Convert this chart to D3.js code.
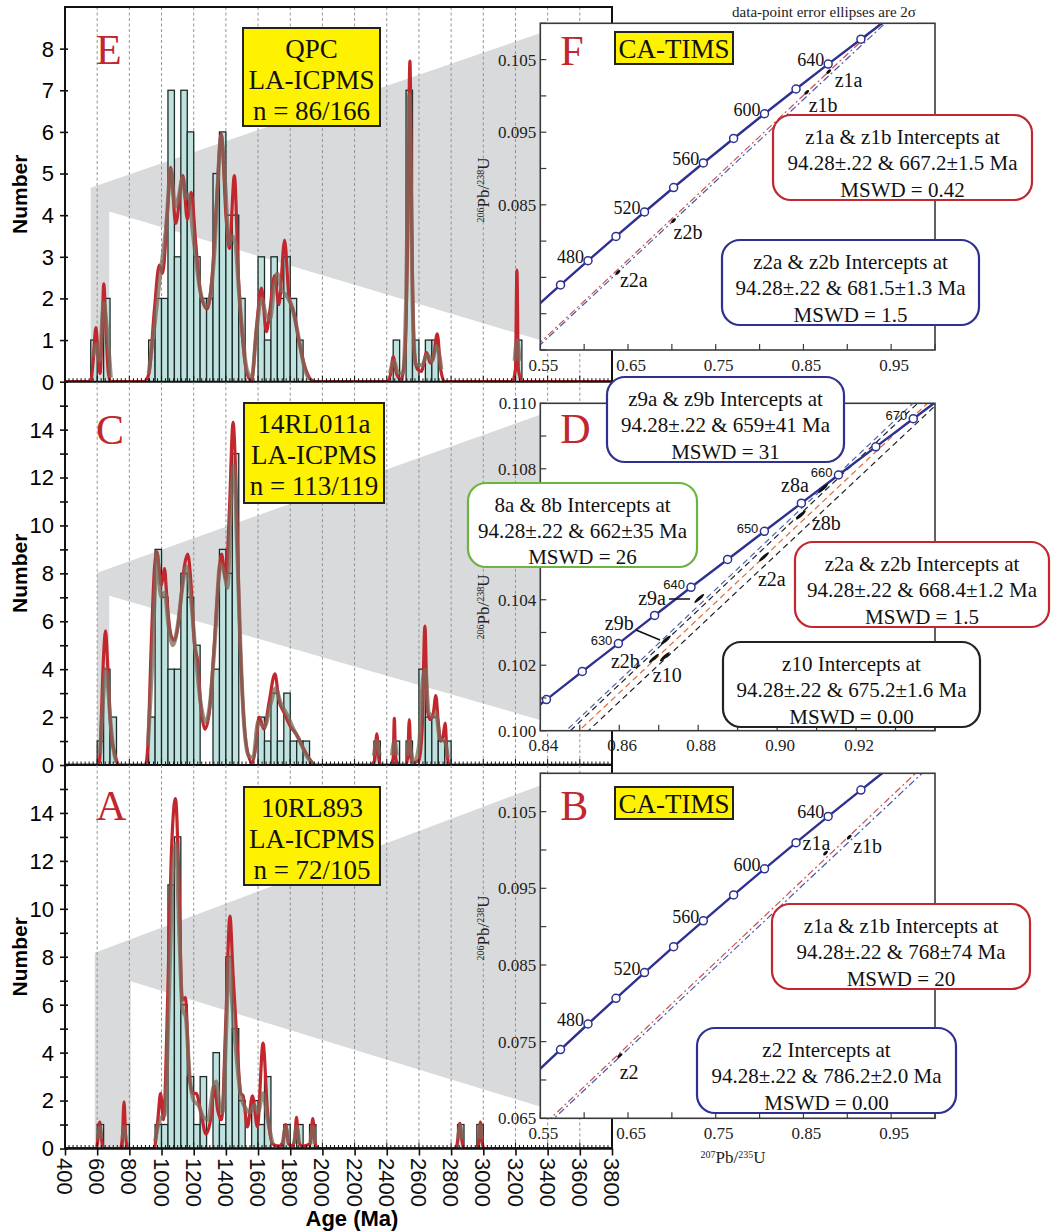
<!DOCTYPE html>
<html>
<head>
<meta charset="utf-8">
<script src="https://cdn.jsdelivr.net/npm/d3@7"></script>
<style>
body { margin: 0; background: #fff; }
svg { display: block; }
</style>
</head>
<body>
<svg id="fig" width="1051" height="1231"></svg>
<script>
/* Detrital zircon histograms (E, C, A) + concordia insets (F, D, B) */

var binWidth = 40;
var ageTicks = [400, 600, 800, 1000, 1200, 1400, 1600, 1800, 2000, 2200, 2400, 2600, 2800, 3000, 3200, 3400, 3600, 3800];
var countLabelsE = [0, 1, 2, 3, 4, 5, 6, 7, 8];
var countLabelsCA = [0, 2, 4, 6, 8, 10, 12, 14];

// [bin start (Ma), count]
var binsE = [[560,1],[640,2],[920,1],[960,2],[1000,2],[1040,7],[1080,3],[1120,7],[1160,6],[1200,3],[1240,2],[1280,2],[1320,5],[1360,6],[1400,4],[1440,4],[1480,2],[1600,3],[1640,1],[1680,3],[1720,2],[1760,3],[1800,2],[1840,1],[2440,1],[2520,7],[2560,1],[2640,1],[2680,1],[3200,1]];
var binsC = [[600,1],[640,4],[680,2],[920,2],[960,9],[1000,7],[1040,4],[1080,4],[1120,8],[1160,7],[1200,5],[1320,4],[1360,9],[1400,8],[1440,13],[1600,2],[1640,1],[1680,3],[1720,1],[1760,3],[1800,1],[1840,1],[1880,1],[2320,1],[2440,1],[2520,1],[2600,4],[2640,2],[2680,2],[2720,1],[2760,1]];
var binsA = [[600,1],[760,1],[960,1],[1000,1],[1040,11],[1080,13],[1120,6],[1160,3],[1200,1],[1240,3],[1320,4],[1360,1],[1400,8],[1440,5],[1480,2],[1560,2],[1600,1],[1640,3],[1760,1],[1840,1],[1920,1],[2840,1],[2960,1]];

// probability density (red) and KDE (brown), [age, value in count units]
var redE = [[400,0],[560,0],[575,0.5],[592,1.3],[608,0.5],[618,0.2],[630,1.2],[641,2.35],[655,1.2],[670,0.2],[685,0],[890,0],[922,0.2],[955,1.7],[986,2.8],[1006,2.6],[1037,4.1],[1057,5.15],[1088,3.8],[1133,4.95],[1160,3.9],[1185,4.55],[1211,3.4],[1242,2.15],[1283,1.75],[1314,2.5],[1345,4.5],[1371,5.95],[1402,3.9],[1422,3.2],[1453,4.95],[1478,2.5],[1500,1.2],[1531,0.2],[1560,0.02],[1590,1.3],[1621,2.25],[1652,1.2],[1673,1.7],[1703,2.55],[1730,1.85],[1765,3.4],[1792,2.05],[1820,1.7],[1853,1.0],[1888,0.4],[1929,0.05],[1960,0],[2400,0],[2425,0.2],[2440,0.6],[2460,0.2],[2490,0.05],[2515,0.8],[2530,3.5],[2544,7.7],[2556,3.5],[2570,0.8],[2590,0.3],[2615,0.25],[2648,0.7],[2670,0.45],[2690,0.6],[2714,1.15],[2735,0.3],[2760,0],[3180,0],[3200,0.3],[3209,2.68],[3218,0.3],[3240,0],[3800,0]];
var brownE = [[560,0],[575,0.6],[595,0.9],[615,0.5],[640,1.9],[660,1.3],[685,0.1],[700,0],[900,0],[920,0.2],[955,1.3],[990,2.5],[1030,3.8],[1057,5.1],[1085,4.2],[1110,4.5],[1130,4.9],[1150,4.4],[1165,4.5],[1200,3.4],[1240,2.2],[1280,1.8],[1300,2.0],[1330,3.2],[1350,4.8],[1370,5.9],[1395,4.8],[1420,3.3],[1440,3.5],[1460,3.3],[1480,2.2],[1500,1.3],[1530,0.3],[1560,0.1],[1590,1.2],[1620,2.0],[1650,1.6],[1675,1.5],[1700,2.3],[1720,2.6],[1745,2.2],[1770,2.1],[1800,1.9],[1830,1.5],[1860,0.9],[1890,0.3],[1920,0.05],[1950,0],[2400,0],[2420,0.2],[2445,0.5],[2470,0.2],[2500,0.2],[2520,2.0],[2540,6.9],[2560,2.0],[2580,0.4],[2620,0.4],[2650,0.65],[2680,0.5],[2710,0.85],[2740,0.3],[2760,0],[3180,0],[3195,0.5],[3210,1.0],[3225,0.5],[3240,0]];

var redC = [[400,0],[600,0],[615,0.2],[627,2.2],[640,4.6],[652,5.6],[665,4.2],[678,2.2],[692,1.0],[705,0.6],[720,0.2],[736,0],[900,0],[915,0.8],[936,5.0],[957,8.3],[971,8.9],[985,8.2],[998,7.5],[1010,7.9],[1019,8.2],[1030,7.3],[1039,6.5],[1060,5.4],[1080,5.2],[1100,5.7],[1111,6.3],[1142,8.3],[1163,8.8],[1184,7.5],[1204,5.1],[1225,4.3],[1245,2.4],[1270,1.5],[1297,2.2],[1322,4.4],[1349,7.2],[1373,8.8],[1390,8.1],[1400,7.7],[1421,10.5],[1445,14.3],[1462,11.9],[1483,6.3],[1503,2.9],[1528,0.8],[1561,0.1],[1586,0.8],[1606,2.0],[1637,1.5],[1668,2.6],[1705,3.8],[1730,2.7],[1761,2.2],[1802,1.6],[1837,1.3],[1874,0.8],[1916,0.3],[1957,0],[2300,0],[2325,0.2],[2338,1.3],[2352,0.2],[2365,0],[2425,0],[2440,0.3],[2447,1.95],[2455,0.3],[2470,0],[2515,0],[2530,0.3],[2540,1.9],[2550,0.3],[2565,0.1],[2600,0.2],[2620,1.5],[2637,5.8],[2652,2.3],[2670,1.9],[2690,2.2],[2705,2.9],[2720,1.8],[2736,1.0],[2750,1.2],[2763,1.75],[2775,0.4],[2790,0],[3800,0]];
var brownC = [[600,0],[618,0.5],[635,2.5],[652,4.0],[668,3.2],[683,1.8],[700,0.7],[720,0.1],[735,0],[900,0],[915,0.8],[940,4.0],[960,7.5],[972,8.8],[990,7.3],[1000,7.0],[1020,7.2],[1040,6.0],[1070,5.0],[1100,5.8],[1135,7.7],[1155,8.3],[1185,6.8],[1210,4.8],[1245,2.5],[1275,1.8],[1300,2.5],[1330,5.0],[1365,8.4],[1390,8.0],[1410,7.4],[1435,11.5],[1450,12.5],[1470,9.0],[1490,5.0],[1510,2.0],[1540,0.4],[1570,0.3],[1600,1.8],[1640,1.6],[1680,2.6],[1710,3.2],[1740,2.6],[1780,2.1],[1820,1.5],[1860,1.0],[1900,0.4],[1940,0.05],[1960,0],[2300,0],[2320,0.4],[2338,1.0],[2356,0.4],[2370,0],[2425,0],[2432,0.4],[2447,1.0],[2462,0.4],[2475,0],[2515,0],[2525,0.4],[2540,1.0],[2555,0.4],[2570,0.1],[2600,0.8],[2625,3.6],[2640,4.0],[2660,2.2],[2690,2.0],[2705,2.2],[2730,1.1],[2760,1.0],[2780,0.3],[2795,0]];

var redA = [[400,0],[595,0],[605,0.4],[616,1.1],[627,0.4],[638,0],[745,0],[757,0.5],[767,1.95],[777,0.5],[790,0],[945,0],[957,0.07],[977,1.2],[994,2.3],[1012,1.2],[1039,6.5],[1060,12.1],[1087,14.6],[1107,11.4],[1128,6.2],[1148,6.3],[1173,3.0],[1194,2.3],[1215,2.3],[1245,1.5],[1276,0.6],[1307,1.3],[1328,2.6],[1349,1.6],[1373,1.2],[1400,5.4],[1425,9.7],[1445,7.2],[1466,4.8],[1493,2.3],[1507,2.2],[1534,0.9],[1565,2.2],[1596,0.9],[1631,4.4],[1658,1.6],[1689,0.2],[1730,0.1],[1755,0.3],[1771,1.0],[1790,0.2],[1812,0.1],[1828,0.4],[1839,1.3],[1852,0.3],[1874,0.1],[1925,0.2],[1940,1.25],[1955,0.2],[1977,0],[2830,0],[2840,0.3],[2854,1.05],[2868,0.3],[2880,0],[2965,0],[2972,0.3],[2982,1.1],[2992,0.3],[3005,0],[3800,0]];
var brownA = [[600,0],[607,0.4],[616,0.9],[626,0.4],[635,0],[750,0],[758,0.4],[767,0.9],[777,0.4],[785,0],[950,0],[960,0.3],[980,1.0],[1000,1.3],[1020,1.4],[1045,6.0],[1070,11.5],[1090,12.7],[1110,9.0],[1130,5.8],[1150,5.5],[1175,3.0],[1200,2.0],[1230,1.8],[1260,1.3],[1290,1.2],[1320,2.5],[1340,2.8],[1360,1.8],[1380,1.5],[1400,4.5],[1420,8.0],[1440,6.0],[1460,4.3],[1490,2.3],[1520,1.7],[1550,1.5],[1575,1.8],[1600,1.5],[1630,2.3],[1660,1.2],[1690,0.2],[1720,0],[1755,0.2],[1771,0.9],[1790,0.2],[1805,0],[1825,0.2],[1840,0.9],[1856,0.2],[1870,0],[1925,0.2],[1940,0.9],[1956,0.2],[1970,0],[2838,0],[2845,0.4],[2855,0.95],[2866,0.4],[2875,0],[2968,0],[2975,0.4],[2982,0.95],[2990,0.4],[3000,0]];

// zoom wedges, [age, count]
var wedgeE = [[560,0],[560,4.66],[3352,8.37],[3352,1.0],[675,4.09],[675,0]];
var wedgeC = [[600,0],[600,8.03],[3352,14.62],[3352,1.88],[675,7.06],[675,0]];
var wedgeA = [[585,0],[585,8.17],[3352,15.14],[3352,1.75],[808,6.98],[808,0]];

var boxTextE = ["QPC", "LA-ICPMS", "n = 86/166"];
var boxTextC = ["14RL011a", "LA-ICPMS", "n = 113/119"];
var boxTextA = ["10RL893", "LA-ICPMS", "n = 72/105"];

// concordia points (207Pb/235U, 206Pb/238U)
var concAges20 = [440, 460, 480, 500, 520, 540, 560, 580, 600, 620, 640, 660, 680];
var concX20 = [0.54239, 0.57307, 0.60437, 0.63628, 0.66883, 0.70202, 0.73588, 0.77040, 0.80562, 0.84155, 0.87818, 0.91554, 0.95365];
var concY20 = [0.07064, 0.07397, 0.07730, 0.08065, 0.08401, 0.08738, 0.09076, 0.09414, 0.09754, 0.10095, 0.10438, 0.10781, 0.11125];
var concAges5 = [615, 620, 625, 630, 635, 640, 645, 650, 655, 660, 665, 670, 675];
var concX5 = [0.83250, 0.84155, 0.85064, 0.85978, 0.86896, 0.87818, 0.88745, 0.89677, 0.90614, 0.91554, 0.92500, 0.93450, 0.94405];
var concY5 = [0.10010, 0.10095, 0.10181, 0.10266, 0.10352, 0.10438, 0.10523, 0.10609, 0.10695, 0.10781, 0.10867, 0.10953, 0.11039];

var lowerIntercept = [0.09730, 0.014733]; // 94.28 Ma
// upper intercepts [x, y]
var discF = [[0.92918, 0.10905], [0.95653, 0.11151]];
var discD = [[0.91366, 0.10764], [0.91932, 0.10815], [0.93146, 0.10925], [0.94444, 0.11042]];
var discB = [[1.13052, 0.12652], [1.16905, 0.12971]];

// analyses
var ptsF = [[0.8788, 0.10334], [0.8537, 0.10049], [0.7019, 0.08283], [0.6385, 0.07569]];
var namesF = ["z1a", "z1b", "z2b", "z2a"];
var ptsD = [[0.91165, 0.10740], [0.90603, 0.10659], [0.89667, 0.10531], [0.88027, 0.10404], [0.87181, 0.10277], [0.86878, 0.10221], [0.87156, 0.10226]];
var namesD = ["z8a", "z8b", "z2a", "z9a", "z9b", "z2b", "z10"];
var ptsB = [[0.8752, 0.09959], [0.9022, 0.10168], [0.6405, 0.07318]];
var namesB = ["z1a", "z1b", "z2"];

var boxF1 = ["z1a & z1b Intercepts at", "94.28\u00b1.22 & 667.2\u00b11.5 Ma", "MSWD = 0.42"];
var boxF2 = ["z2a & z2b Intercepts at", "94.28\u00b1.22 & 681.5\u00b11.3 Ma", "MSWD = 1.5"];
var boxD1 = ["z9a & z9b Intercepts at", "94.28\u00b1.22 & 659\u00b141 Ma", "MSWD = 31"];
var boxD2 = ["8a & 8b Intercepts at", "94.28\u00b1.22 & 662\u00b135 Ma", "MSWD = 26"];
var boxD3 = ["z2a & z2b Intercepts at", "94.28\u00b1.22 & 668.4\u00b11.2 Ma", "MSWD = 1.5"];
var boxD4 = ["z10 Intercepts at", "94.28\u00b1.22 & 675.2\u00b11.6 Ma", "MSWD = 0.00"];
var boxB1 = ["z1a & z1b Intercepts at", "94.28\u00b1.22 & 768\u00b174 Ma", "MSWD = 20"];
var boxB2 = ["z2 Intercepts at", "94.28\u00b1.22 & 786.2\u00b12.0 Ma", "MSWD = 0.00"];

var xLabelsWide = [0.55, 0.65, 0.75, 0.85, 0.95];
var xTicksWide = [0.55, 0.60, 0.65, 0.70, 0.75, 0.80, 0.85, 0.90, 0.95, 1.00];
var yTicksWide = [0.065, 0.070, 0.075, 0.080, 0.085, 0.090, 0.095, 0.100, 0.105, 0.110];
var yLabelsF = [0.085, 0.095, 0.105];
var yLabelsB = [0.065, 0.075, 0.085, 0.095, 0.105];
var xLabelsD = [0.84, 0.86, 0.88, 0.90, 0.92];
var xTicksD = [0.84, 0.85, 0.86, 0.87, 0.88, 0.89, 0.90, 0.91, 0.92, 0.93, 0.94];
var yLabelsD = [0.100, 0.102, 0.104, 0.108, 0.110];
var yTicksD = [0.100, 0.101, 0.102, 0.103, 0.104, 0.105, 0.106, 0.107, 0.108, 0.109, 0.110];

var serif = "'Liberation Serif', 'Times New Roman', serif";
var sans = "'Liberation Sans', Arial, sans-serif";
var red = "#c1272d", navy = "#2e3192";

var svg = d3.select("#fig");
var defs = svg.append("defs");

var xAge = d3.scaleLinear().domain([400, 3800]).range([65, 612]);

function drawHist(p) {
  var y = d3.scaleLinear().domain([0, p.ymax]).range([p.bottom, p.top]);
  var g = svg.append("g");
  defs.append("clipPath").attr("id", "clip" + p.letter)
    .append("rect").attr("x", 65).attr("y", p.top).attr("width", 547).attr("height", p.bottom - p.top);
  var inner = g.append("g").attr("clip-path", "url(#clip" + p.letter + ")");

  inner.append("path")
    .attr("d", d3.line().x(function (d) { return xAge(d[0]); }).y(function (d) { return y(d[1]); })(p.wedge) + "Z")
    .attr("fill", "#d9dadb");

  inner.selectAll(".grid")
    .data(ageTicks.slice(1, -1))
    .enter().append("line")
    .attr("x1", function (d) { return xAge(d); })
    .attr("x2", function (d) { return xAge(d); })
    .attr("y1", p.top).attr("y2", p.bottom)
    .attr("stroke", "#8a8a8a").attr("stroke-width", 0.9).attr("stroke-dasharray", "3,2.5");

  inner.selectAll(".bar")
    .data(p.bins)
    .enter().append("rect")
    .attr("x", function (d) { return xAge(d[0]); })
    .attr("width", function (d) { return xAge(d[0] + binWidth) - xAge(d[0]); })
    .attr("y", function (d) { return y(d[1]); })
    .attr("height", function (d) { return y(0) - y(d[1]); })
    .attr("fill", "#bfe2df")
    .attr("stroke", "#1c2a2a").attr("stroke-width", 1.3);

  var line = d3.line()
    .x(function (d) { return xAge(d[0]); })
    .y(function (d) { return y(d[1]); })
    .curve(d3.curveMonotoneX);

  inner.append("path").attr("d", line(p.red))
    .attr("fill", "none").attr("stroke", red).attr("stroke-width", 3.2);
  inner.append("path").attr("d", line.defined(function (d) { return d[1] > 0; })(p.brown))
    .attr("fill", "none").attr("stroke", "#7d6a5a").attr("stroke-opacity", 0.75).attr("stroke-width", 4);

  // bottom axis minor ticks
  for (var a = 400; a <= 3800; a += 25) {
    g.append("line").attr("x1", xAge(a)).attr("x2", xAge(a))
      .attr("y1", p.bottom).attr("y2", p.bottom - (a % 200 === 0 ? 6 : 3.5))
      .attr("stroke", "#111").attr("stroke-width", 1);
  }
  g.append("line").attr("x1", 65).attr("x2", 612).attr("y1", p.bottom).attr("y2", p.bottom)
    .attr("stroke", "#111").attr("stroke-width", 2);

  // y axis
  var yAxis = d3.axisLeft(y).tickValues(d3.range(0, p.ymax, 1)).tickSize(0).tickFormat("");
  var ax = g.append("g").attr("transform", "translate(65,0)").call(yAxis);
  ax.select(".domain").remove();
  ax.selectAll(".tick line").attr("x1", -5).attr("x2", 3).attr("stroke", "#111").attr("stroke-width", 1.6);
  g.selectAll(".ylab")
    .data(p.labels)
    .enter().append("text")
    .attr("x", 54).attr("y", function (d) { return y(d); })
    .attr("dy", "0.36em")
    .attr("text-anchor", "end")
    .style("font-family", sans).style("font-size", "22px")
    .text(function (d) { return d; });

  g.append("text")
    .attr("transform", "translate(27," + ((p.top + p.bottom) / 2) + ") rotate(-90)")
    .attr("text-anchor", "middle")
    .style("font-family", sans).style("font-size", "21px").style("font-weight", "bold")
    .text("Number");

  g.append("text").attr("x", 96).attr("y", p.letterY)
    .style("font-family", serif).style("font-size", "42px").attr("fill", red)
    .text(p.letter);

  var bx = p.box;
  g.append("rect").attr("x", bx[0]).attr("y", bx[1]).attr("width", bx[2]).attr("height", bx[3])
    .attr("fill", "#fff200").attr("stroke", "#222").attr("stroke-width", 2);
  p.boxText.forEach(function (t, i) {
    g.append("text").attr("x", bx[0] + bx[2] / 2).attr("y", bx[1] + 30 + i * 31)
      .attr("text-anchor", "middle")
      .style("font-family", serif).style("font-size", "27px").attr("fill", "#111")
      .text(t);
  });
}

drawHist({ top: 7, bottom: 381.7, ymax: 9, labels: countLabelsE, bins: binsE, red: redE, brown: brownE, wedge: wedgeE, letter: "E", letterY: 64, box: [243, 28, 137, 98], boxText: boxTextE });
drawHist({ top: 381.7, bottom: 765, ymax: 16, labels: countLabelsCA, bins: binsC, red: redC, brown: brownC, wedge: wedgeC, letter: "C", letterY: 444, box: [244, 403, 140, 100], boxText: boxTextC });
drawHist({ top: 765, bottom: 1148.5, ymax: 16, labels: countLabelsCA, bins: binsA, red: redA, brown: brownA, wedge: wedgeA, letter: "A", letterY: 820, box: [244, 787, 136, 98], boxText: boxTextA });

// left frame
svg.append("rect").attr("x", 65).attr("y", 7).attr("width", 547).attr("height", 1141.5)
  .attr("fill", "none").attr("stroke", "#111").attr("stroke-width", 2);

// bottom axis with age labels
var xAxis = d3.axisBottom(xAge).tickValues(ageTicks).tickSize(7).tickFormat("");
var xg = svg.append("g").attr("transform", "translate(0,1148.5)").call(xAxis);
xg.select(".domain").remove();
xg.selectAll(".tick line").attr("stroke", "#111").attr("stroke-width", 1.6);
svg.selectAll(".agelab")
  .data(ageTicks)
  .enter().append("text")
  .attr("transform", function (d) { return "translate(" + xAge(d) + ",1158) rotate(90)"; })
  .attr("dy", "0.36em")
  .style("font-family", sans).style("font-size", "22px").attr("fill", "#111")
  .text(function (d) { return d; });
svg.append("text").attr("x", 352).attr("y", 1226).attr("text-anchor", "middle")
  .style("font-family", sans).style("font-size", "22px").style("font-weight", "bold")
  .text("Age (Ma)");

// concordia panels
function superLabel(sel, a, b) {
  sel.append("tspan").attr("baseline-shift", "super").style("font-size", "10px").text(a);
  sel.append("tspan").text("Pb/");
  sel.append("tspan").attr("baseline-shift", "super").style("font-size", "10px").text(b);
  sel.append("tspan").text("U");
}

function roundBox(g, r, lines, color) {
  g.append("rect").attr("x", r[0]).attr("y", r[1]).attr("width", r[2] - r[0]).attr("height", r[3] - r[1])
    .attr("rx", 18).attr("ry", 18)
    .attr("fill", "#fff").attr("stroke", color).attr("stroke-width", 2.2);
  var cx = (r[0] + r[2]) / 2, h = r[3] - r[1];
  lines.forEach(function (t, i) {
    g.append("text").attr("x", cx).attr("y", r[1] + h * 0.26 + 7 + i * h * 0.31)
      .attr("text-anchor", "middle")
      .style("font-family", serif).style("font-size", "21px").attr("fill", "#111")
      .text(t);
  });
}

function drawConc(p) {
  var x = d3.scaleLinear().domain(p.xDomain).range([p.x0, p.x1]);
  var y = d3.scaleLinear().domain(p.yDomain).range([p.y1, p.y0]);
  var g = svg.append("g");
  defs.append("clipPath").attr("id", "cc" + p.letter)
    .append("rect").attr("x", p.x0).attr("y", p.y0).attr("width", p.x1 - p.x0).attr("height", p.y1 - p.y0);
  g.append("rect").attr("x", p.x0).attr("y", p.y0).attr("width", p.x1 - p.x0).attr("height", p.y1 - p.y0)
    .attr("fill", "#fff");

  var inner = g.append("g").attr("clip-path", "url(#cc" + p.letter + ")");

  // discordia lines
  p.disc.forEach(function (d, i) {
    var slope = (d[1] - lowerIntercept[1]) / (d[0] - lowerIntercept[0]);
    var xe = p.xDomain[1] + 0.05;
    inner.append("line")
      .attr("x1", x(lowerIntercept[0])).attr("y1", y(lowerIntercept[1]))
      .attr("x2", x(xe)).attr("y2", y(lowerIntercept[1] + slope * (xe - lowerIntercept[0])))
      .attr("stroke", p.discColors[i]).attr("stroke-width", 1.2)
      .attr("stroke-dasharray", p.dash);
  });

  // concordia
  var pts = p.concX.map(function (v, i) { return [v, p.concY[i], p.concAges[i]]; });
  inner.append("path")
    .attr("d", d3.line().x(function (d) { return x(d[0]); }).y(function (d) { return y(d[1]); }).curve(d3.curveCatmullRom)(pts))
    .attr("fill", "none").attr("stroke", navy).attr("stroke-width", 2.4);
  inner.selectAll(".mk")
    .data(pts.filter(function (d) { return d[0] >= p.xDomain[0] && d[1] <= p.yDomain[1]; }))
    .enter().append("circle")
    .attr("cx", function (d) { return x(d[0]); })
    .attr("cy", function (d) { return y(d[1]); })
    .attr("r", 4).attr("fill", "#fff").attr("stroke", navy).attr("stroke-width", 1.5);
  pts.filter(function (d) { return p.labelAges.indexOf(d[2]) >= 0; }).forEach(function (d) {
    g.append("text").attr("x", x(d[0]) - p.labOff[0]).attr("y", y(d[1]) + p.labOff[1])
      .attr("text-anchor", "end")
      .style("font-family", p.labFont).style("font-size", p.labSize).attr("fill", "#111")
      .text(d[2]);
  });

  // analyses
  var ang = Math.atan2(y(0.1 + 0.011) - y(0.1), x(0.1) - x(0)) * 180 / Math.PI;
  p.pts.forEach(function (d, i) {
    inner.append("ellipse").attr("cx", x(d[0])).attr("cy", y(d[1]))
      .attr("rx", p.ell[0]).attr("ry", p.ell[1])
      .attr("transform", "rotate(" + ang + "," + x(d[0]) + "," + y(d[1]) + ")")
      .attr("fill", "#111");
    var o = p.nameOff[i];
    g.append("text").attr("x", x(d[0]) + o[0]).attr("y", y(d[1]) + o[1])
      .style("font-family", serif).style("font-size", "20px").attr("fill", "#111")
      .text(p.names[i]);
  });
  (p.leaders || []).forEach(function (l) {
    g.append("line").attr("x1", l[0]).attr("y1", l[1]).attr("x2", l[2]).attr("y2", l[3])
      .attr("stroke", "#111").attr("stroke-width", 1.5);
  });

  // frame and ticks
  g.append("rect").attr("x", p.x0).attr("y", p.y0).attr("width", p.x1 - p.x0).attr("height", p.y1 - p.y0)
    .attr("fill", "none").attr("stroke", "#3a3a3a").attr("stroke-width", 1.6);
  p.xTicks.forEach(function (v) {
    g.append("line").attr("x1", x(v)).attr("x2", x(v)).attr("y1", p.y1).attr("y2", p.y1 - 6)
      .attr("stroke", "#3a3a3a").attr("stroke-width", 1.2);
  });
  p.yTicks.forEach(function (v) {
    g.append("line").attr("x1", p.x0).attr("x2", p.x0 + 6).attr("y1", y(v)).attr("y2", y(v))
      .attr("stroke", "#3a3a3a").attr("stroke-width", 1.2);
  });
  p.xLabels.forEach(function (v) {
    g.append("text").attr("x", x(v) + 3).attr("y", p.xLabY).attr("text-anchor", "middle")
      .style("font-family", serif).style("font-size", "17px").attr("fill", "#222")
      .text(d3.format(".2f")(v));
  });
  p.yLabels.forEach(function (v) {
    g.append("text").attr("x", p.x0 - 4).attr("y", y(v)).attr("dy", "0.35em").attr("text-anchor", "end")
      .style("font-family", serif).style("font-size", "17px").attr("fill", "#222")
      .text(d3.format(".3f")(v));
  });
  superLabel(g.append("text")
    .attr("transform", "translate(489," + p.yTitleY + ") rotate(-90)")
    .attr("text-anchor", "middle")
    .style("font-family", serif).style("font-size", "17px").attr("fill", "#222"), "206", "238");

  g.append("text").attr("x", p.x0 + 20).attr("y", p.letterY)
    .style("font-family", serif).style("font-size", "42px").attr("fill", red)
    .text(p.letter);

  if (p.tims) {
    g.append("rect").attr("x", p.tims[0]).attr("y", p.tims[1]).attr("width", 118).attr("height", 32)
      .attr("fill", "#fff200").attr("stroke", "#222").attr("stroke-width", 2);
    g.append("text").attr("x", p.tims[0] + 59).attr("y", p.tims[1] + 26).attr("text-anchor", "middle")
      .style("font-family", serif).style("font-size", "27px").attr("fill", "#111")
      .text("CA-TIMS");
  }
  p.boxes.forEach(function (b) { roundBox(svg, b[0], b[1], b[2]); });
}

drawConc({
  letter: "F", x0: 540.3, x1: 935, y0: 23.3, y1: 350, xDomain: [0.55, 1.0], yDomain: [0.065, 0.11],
  disc: discF, discColors: ["#c8514f", "#4a5aa8"], dash: "7,3,2,3",
  concX: concX20, concY: concY20, concAges: concAges20, labelAges: [480, 520, 560, 600, 640],
  labOff: [4, 2], labFont: serif, labSize: "18px",
  pts: ptsF, names: namesF, ell: [3, 1.5],
  nameOff: [[6, 15], [2, 20], [0, 18], [2, 15]],
  xTicks: xTicksWide, yTicks: yTicksWide, xLabels: xLabelsWide, yLabels: yLabelsF, xLabY: 371, yTitleY: 190,
  letterY: 65, tims: [615, 32],
  boxes: [[[773, 115, 1032, 200], boxF1, red], [[722, 240, 979, 325], boxF2, navy]]
});

drawConc({
  letter: "D", x0: 540.3, x1: 935, y0: 403.3, y1: 730.7, xDomain: [0.84, 0.94], yDomain: [0.100, 0.110],
  disc: discD, discColors: ["#4a66b0", "#222222", "#e06a3a", "#222222"], dash: "6,4",
  concX: concX5, concY: concY5, concAges: concAges5, labelAges: [630, 640, 650, 660, 670],
  labOff: [6, 1.5], labFont: sans, labSize: "13px",
  pts: ptsD, names: namesD, ell: [6.5, 1.6],
  nameOff: [[-42, 4], [11, 15], [-6, 29], [-61, 7], [-61, -10], [-43, 10], [-12, 25]],
  leaders: [[669, 599, 690, 599], [636, 630, 660, 640]],
  xTicks: xTicksD, yTicks: yTicksD, xLabels: xLabelsD, yLabels: yLabelsD, xLabY: 751, yTitleY: 607,
  letterY: 443, tims: null,
  boxes: [[[607, 377, 844, 462], boxD1, navy], [[468, 483, 697, 567], boxD2, "#6cb33f"],
          [[795, 542, 1049, 627], boxD3, red], [[723, 642, 980, 727], boxD4, "#222"]]
});

drawConc({
  letter: "B", x0: 540.3, x1: 935, y0: 773.3, y1: 1118.3, xDomain: [0.55, 1.0], yDomain: [0.065, 0.11],
  disc: discB, discColors: ["#c8514f", "#4a5aa8"], dash: "7,3,2,3",
  concX: concX20, concY: concY20, concAges: concAges20, labelAges: [480, 520, 560, 600, 640],
  labOff: [4, 2], labFont: serif, labSize: "18px",
  pts: ptsB, names: namesB, ell: [3, 1.5],
  nameOff: [[-23, -3], [4, 16], [0, 23]],
  xTicks: xTicksWide, yTicks: yTicksWide, xLabels: xLabelsWide, yLabels: yLabelsB, xLabY: 1139, yTitleY: 928,
  letterY: 820, tims: [615, 787],
  boxes: [[[772, 904, 1030, 989], boxB1, red], [[697, 1028, 956, 1113], boxB2, navy]]
});

superLabel(svg.append("text").attr("x", 733).attr("y", 1163).attr("text-anchor", "middle")
  .style("font-family", serif).style("font-size", "17px").attr("fill", "#222"), "207", "235");

svg.append("text").attr("x", 824).attr("y", 17).attr("text-anchor", "middle")
  .style("font-family", serif).style("font-size", "15px").attr("fill", "#222")
  .text("data-point error ellipses are 2\u03c3");
</script>
</body>
</html>
